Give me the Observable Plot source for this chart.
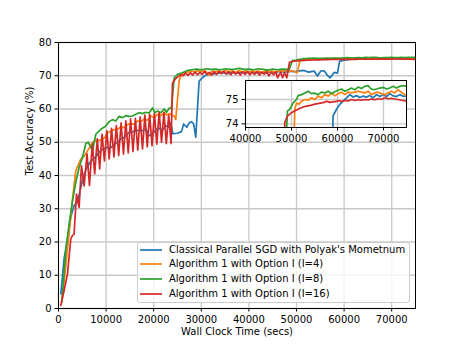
<!DOCTYPE html>
<html><head><meta charset="utf-8">
<script src="https://cdn.jsdelivr.net/npm/d3@7"></script>
<script src="https://cdn.jsdelivr.net/npm/@observablehq/plot@0.6"></script>
<style>
body{margin:0;background:#fff;font-family:"DejaVu Sans",sans-serif;}
#wrap{position:relative;width:461px;height:346px;overflow:hidden;background:#fff;}
#main,#inset{position:absolute;}
#main{left:0;top:0;}
#inset{left:215px;top:75px;}
#legend{position:absolute;left:137px;top:242px;width:273px;height:61px;box-sizing:border-box;border:1px solid #cccccc;border-radius:3px;background:rgba(255,255,255,0.8);font-size:10px;color:#000;}
.item{position:absolute;left:0;height:14px;width:270px;}
.item svg{position:absolute;left:2px;top:0;}
.item span{position:absolute;left:31px;top:0;line-height:14px;white-space:nowrap;}
</style>
</head><body>
<div id="wrap"><div id="main"></div><div id="inset"></div><div id="legend"></div></div>
<script>
const seriesNames = ["Classical Parallel SGD with Polyak's Mometnum", "Algorithm 1 with Option I (I=4)", "Algorithm 1 with Option I (I=8)", "Algorithm 1 with Option I (I=16)"];
const colors = ["#1f77b4", "#ff7f0e", "#2ca02c", "#d62728"];
const xTicks = [0, 10000, 20000, 30000, 40000, 50000, 60000, 70000];
const yTicks = [0, 10, 20, 30, 40, 50, 60, 70, 80];
const insetXTicks = [40000, 50000, 60000, 70000];
const insetYTicks = [74, 75];

// [wall clock time (s), test accuracy (%)]
const sgdPolyak = [[500,4.4],[1180,15],[1890,21],[2580,27.5],[3280,31],[3990,32],[4680,36.4],[5300,40],[5950,42.4],[6650,44],[7350,45],[8050,46],[8750,47.4],[9450,48],[10150,48.4],[10900,48.2],[11700,49.4],[12400,50],[13100,51],[13940,51.6],[14850,53],[15700,53.2],[16600,53.6],[17450,53.4],[18350,54],[19050,52],[19750,52.4],[20450,53.8],[21150,54.2],[21850,53.6],[22550,55],[23250,54.4],[23600,55.9],[24000,52.6],[25000,52.7],[25840,53.2],[26300,55.5],[26950,54.5],[27440,55.8],[27940,56.2],[28400,55.5],[28840,51.5],[29540,68.4],[30250,69.4],[30950,70.2],[32000,70.5],[33400,70.7],[34500,70.9],[35500,70.6],[36500,71.0],[37500,70.8],[38500,71.1],[39500,70.9],[40500,71.2],[41500,70.9],[42500,71.1],[43500,70.8],[44500,71.2],[45500,71.0],[46500,71.3],[47500,71.1],[48500,71.4],[49500,71.2],[50200,71.4],[51600,71.6],[52500,71.1],[53700,71.4],[54400,69.9],[55100,71.4],[55800,71.5],[56500,70.1],[57060,69.4],[57900,71.0],[58600,70.8],[59040,74.33],[59780,74.6],[60500,74.8],[61220,74.93],[61960,75.07],[62670,75.2],[63400,75.1],[64130,75.16],[64850,75.08],[65570,75.14],[66300,75.1],[67000,75.16],[67740,75.07],[68480,75.2],[69200,75.12],[69920,75.2],[70650,75.12],[71370,75.24],[72090,75.15],[72810,75.12],[73540,75.2],[74260,75.13],[75000,75.15]];

const algI4 = [[700,2],[1400,11],[2100,21],[2800,31],[3630,41.4],[4680,44.9],[5400,45.8],[6090,47.4],[7140,49.9],[7700,50.6],[8190,50.4],[9240,50.9],[9800,51.5],[10290,52.9],[10900,53.2],[11700,53.8],[12400,53.9],[13100,54.6],[13780,54.4],[14500,55.3],[15190,55.6],[15900,55.4],[16600,56.4],[17300,56.2],[17980,56.9],[18700,56.6],[19390,57.9],[20100,57.4],[20800,58.4],[21500,58.0],[22180,58.9],[22750,58.2],[23250,58.6],[23750,58.3],[24290,57.9],[24640,56.9],[25340,68.4],[25700,69.9],[26400,70.9],[27100,71.1],[27800,71.4],[28500,71.2],[29200,71.5],[30000,71.3],[30800,71.5],[31640,70.2],[32300,71.4],[33000,71.2],[33700,71.5],[34400,71.1],[35100,71.6],[35800,71.2],[36500,71.5],[37200,71.0],[37900,71.6],[38600,71.2],[39300,71.4],[40000,71.0],[40700,71.5],[41400,71.2],[42100,71.4],[42800,71.0],[43500,71.5],[44200,71.2],[44900,71.4],[45600,71.1],[46300,71.5],[47000,71.3],[47700,71.6],[48400,71.2],[49100,71.5],[49850,71.1],[50200,71.0],[50720,74.6],[51090,74.86],[51600,74.8],[52170,74.93],[52890,75.0],[53610,74.97],[54350,75.07],[55070,75.0],[55780,75.14],[56500,75.07],[57240,75.2],[57960,75.14],[58700,75.27],[59400,75.15],[60130,75.24],[60870,75.3],[61590,75.2],[62320,75.3],[63040,75.27],[63760,75.3],[64480,75.34],[65200,75.3],[65930,75.27],[66650,75.34],[67390,75.2],[68100,75.27],[68830,75.3],[69550,75.24],[70280,75.2],[71000,75.27],[71730,75.34],[72450,75.27],[73170,75.4],[73900,75.3],[74630,75.2],[75000,75.15]];

const algI8 = [[700,2],[1530,17.4],[2230,25.4],[2940,32.4],[3630,37.9],[4330,42.4],[5040,45.4],[5740,49.6],[6230,50.0],[6640,48.9],[7140,47.4],[7840,52.4],[8890,53.9],[9940,54.9],[10640,56.2],[11340,56.8],[12040,56.4],[12750,57.8],[13450,57.4],[14150,58.0],[14850,57.8],[15550,57.9],[16240,58.4],[16950,58.9],[17650,58.6],[18350,59.0],[19040,58.8],[19750,60.3],[20250,58.9],[20800,59.4],[21500,58.9],[22200,60.0],[22700,59.0],[23250,60.2],[23740,60.4],[24300,69.4],[25000,70.4],[26000,70.9],[27100,71.6],[28000,71.8],[29000,72.0],[30000,71.8],[31000,72.1],[32000,71.9],[33000,72.0],[34000,71.8],[35000,72.1],[36000,71.9],[37000,72.0],[38000,72.2],[39000,71.9],[40000,72.0],[41000,71.8],[42000,72.1],[43000,71.9],[44000,71.7],[45000,72.0],[46000,71.8],[47000,72.0],[48000,71.9],[48500,72.0],[49130,74.53],[49630,74.6],[50350,74.86],[51090,75.0],[51430,75.16],[52170,75.2],[52890,75.27],[53610,75.34],[54350,75.24],[55070,75.26],[55780,75.2],[56500,75.3],[57240,75.27],[57960,75.34],[58700,75.24],[59400,75.32],[60130,75.38],[60870,75.43],[61590,75.34],[62320,75.4],[63040,75.47],[63760,75.4],[64480,75.51],[65200,75.45],[65930,75.54],[66650,75.57],[67200,75.45],[67740,75.4],[68470,75.43],[69200,75.47],[69920,75.5],[70650,75.43],[71370,75.47],[72090,75.54],[72810,75.47],[73540,75.54],[74260,75.57],[75000,75.54]];

const algI16 = [[480,0.9],[1180,5.4],[1890,10.4],[2580,20.9],[2940,22],[3280,22.4],[3780,34.4],[4330,30.4],[4830,42.9],[5380,36.9],[6000,46.5],[6500,37],[7100,49.5],[7600,40.5],[8150,51],[8650,42],[9150,52.4],[9650,44.4],[10150,53.4],[10650,45],[11150,54.2],[11650,45.6],[12150,55],[12650,46],[13150,55.8],[13650,46.4],[14150,56.4],[14650,46.8],[15150,57],[15650,47.2],[16150,57.2],[16650,47.6],[17150,57.6],[17650,48],[18150,58.2],[18650,48.6],[19150,58.4],[19650,49],[20150,58.6],[20650,49.4],[21150,59],[21650,50],[22150,59],[22650,49.6],[23150,58.2],[23650,49.6],[23950,67.8],[24650,69.2],[25200,69.8],[25700,70.3],[26200,70.0],[26700,70.8],[27200,70.1],[27700,70.9],[28200,70.2],[28700,71.1],[29200,70.3],[29700,71.0],[30200,70.4],[30700,71.3],[31200,70.5],[31700,71.0],[32200,70.2],[32700,71.2],[33200,70.4],[33700,71.3],[34200,70.6],[34700,71.4],[35200,70.5],[35700,71.2],[36200,70.3],[36700,71.3],[37200,70.5],[37700,71.1],[38200,70.2],[38700,71.2],[39200,70.4],[39700,71.3],[40200,70.3],[40700,71.1],[41200,70.4],[41700,71.3],[42200,70.2],[42700,71.0],[43200,70.5],[43700,71.2],[44200,70.0],[44700,71.1],[45200,70.3],[45700,71.2],[46000,69.4],[46700,71.1],[47060,69.4],[47500,70.9],[47960,69.4],[48540,74.06],[49130,74.32],[50000,74.46],[50540,74.52],[51090,74.57],[51630,74.62],[52170,74.66],[52710,74.7],[53260,74.73],[53800,74.75],[54350,74.77],[54890,74.8],[55430,74.82],[55980,74.84],[56520,74.86],[57070,74.88],[57610,74.93],[58300,74.88],[59000,74.9],[59700,74.92],[60130,74.95],[60870,74.92],[61590,74.96],[62320,74.94],[63040,75.0],[63760,74.96],[64480,74.99],[65200,74.97],[65930,75.0],[66650,74.98],[67390,75.02],[68100,74.99],[68830,75.03],[69550,75.01],[70280,75.07],[71000,75.03],[71730,75.05],[72450,75.02],[73170,75.0],[73900,74.97],[74630,74.95],[75000,74.93]];

const series = [sgdPolyak, algI4, algI8, algI16];

const gridStyle = {stroke: "#c8c8c8", strokeOpacity: 1, strokeWidth: 1.3};
const axisStyle = {tickSize: 3.5, tickPadding: 3.5, fontSize: 10, label: null};
const lineMarks = () => series.map((s, i) => Plot.line(s, {x: d => d[0], y: d => d[1], stroke: colors[i], strokeWidth: 1.7, clip: true}));

const main = Plot.plot({
  width: 461, height: 346,
  marginLeft: 58, marginRight: 46, marginTop: 42, marginBottom: 38,
  style: {background: "transparent", fontFamily: "'DejaVu Sans', sans-serif", fontSize: "10px"},
  x: {domain: [0, 75000]},
  y: {domain: [0, 80]},
  marks: [
    Plot.gridX(xTicks, gridStyle),
    Plot.gridY(yTicks, gridStyle),
    ...lineMarks(),
    Plot.frame({stroke: "#000", strokeWidth: 1}),
    Plot.axisX(xTicks, {...axisStyle, tickFormat: d => String(d)}),
    Plot.axisY(yTicks, {...axisStyle, tickFormat: d => String(d)}),
    Plot.text(["Wall Clock Time (secs)"], {text: d => d, frameAnchor: "bottom", dy: 26.5, fontSize: 10, fill: "#000"}),
    Plot.text(["Test Accuracy (%)"], {text: d => d, frameAnchor: "left", dx: -29, rotate: -90, fontSize: 10, fill: "#000"})
  ]
});
document.getElementById("main").appendChild(main);

const inset = Plot.plot({
  width: 196, height: 72,
  marginLeft: 30, marginRight: 5, marginTop: 5, marginBottom: 20,
  style: {background: "transparent", fontFamily: "'DejaVu Sans', sans-serif", fontSize: "10px", overflow: "visible"},
  x: {domain: [40000, 75000]},
  y: {domain: [73.85, 75.78]},
  marks: [
    Plot.frame({fill: "#fff", stroke: "none"}),
    Plot.gridX(insetXTicks, gridStyle),
    Plot.gridY(insetYTicks, gridStyle),
    ...lineMarks(),
    Plot.frame({stroke: "#000", strokeWidth: 1}),
    Plot.axisX(insetXTicks, {...axisStyle, tickFormat: d => String(d)}),
    Plot.axisY(insetYTicks, {...axisStyle, tickFormat: d => String(d)})
  ]
});
document.getElementById("inset").appendChild(inset);

const legend = document.getElementById("legend");
const centers = [6.5, 21, 35.5, 50.5];
seriesNames.forEach((name, i) => {
  const item = document.createElement("div");
  item.className = "item";
  item.style.top = (centers[i] - 7) + "px";
  item.innerHTML = `<svg width="24" height="14"><line x1="0" x2="22" y1="7" y2="7" stroke="${colors[i]}" stroke-width="1.7"/></svg><span></span>`;
  item.querySelector("span").textContent = name;
  legend.appendChild(item);
});
</script>
</body></html>
